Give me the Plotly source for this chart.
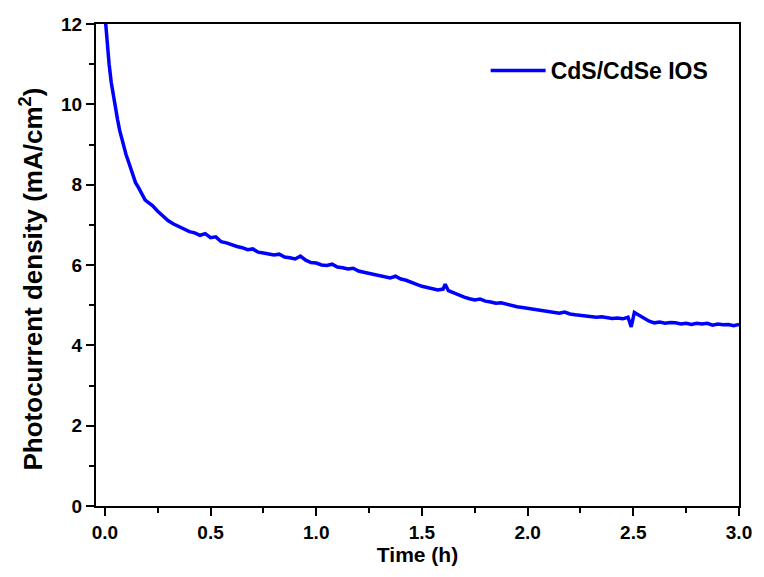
import plotly.graph_objects as go

# Time (h) and photocurrent density (mA/cm^2)
time_h = [0.000, 0.010, 0.020, 0.030, 0.040, 0.050, 0.060, 0.070, 0.080, 0.090,
          0.100, 0.115, 0.130, 0.145, 0.160, 0.175, 0.190, 0.200,
          0.225, 0.250, 0.275, 0.300, 0.325, 0.350, 0.375, 0.400, 0.425, 0.450,
          0.475, 0.500, 0.525, 0.550, 0.575, 0.600, 0.625, 0.650, 0.675, 0.700,
          0.725, 0.750, 0.775, 0.800, 0.825, 0.850, 0.875, 0.900, 0.925, 0.950,
          0.975, 1.000, 1.025, 1.050, 1.075, 1.100, 1.125, 1.150, 1.175, 1.200,
          1.225, 1.250, 1.275, 1.300, 1.325, 1.350, 1.375, 1.400, 1.425, 1.450,
          1.475, 1.500, 1.525, 1.550, 1.575, 1.600, 1.610, 1.625, 1.650, 1.675,
          1.700, 1.725, 1.750, 1.775, 1.800, 1.825, 1.850, 1.875, 1.900, 1.925,
          1.950, 1.975, 2.000, 2.025, 2.050, 2.075, 2.100, 2.125, 2.150, 2.175,
          2.200, 2.225, 2.250, 2.275, 2.300, 2.325, 2.350, 2.375, 2.400, 2.425,
          2.450, 2.475, 2.490, 2.505, 2.525, 2.550, 2.575, 2.600, 2.625, 2.650,
          2.675, 2.700, 2.725, 2.750, 2.775, 2.800, 2.825, 2.850, 2.875, 2.900,
          2.925, 2.950, 2.975, 3.000]

current = [12.25, 11.55, 11.00, 10.55, 10.20, 9.90, 9.62, 9.35, 9.12, 8.95,
           8.75, 8.52, 8.25, 8.05, 7.92, 7.78, 7.62, 7.58,
           7.48, 7.34, 7.22, 7.10, 7.02, 6.95, 6.90, 6.83, 6.80, 6.74,
           6.78, 6.68, 6.70, 6.58, 6.55, 6.50, 6.46, 6.43, 6.38, 6.40,
           6.32, 6.30, 6.28, 6.25, 6.27, 6.20, 6.18, 6.15, 6.22, 6.12,
           6.06, 6.05, 6.00, 5.99, 6.02, 5.95, 5.93, 5.90, 5.92, 5.85,
           5.82, 5.79, 5.76, 5.72, 5.70, 5.68, 5.72, 5.65, 5.62, 5.58,
           5.52, 5.47, 5.44, 5.40, 5.38, 5.40, 5.52, 5.36, 5.30, 5.24,
           5.20, 5.16, 5.13, 5.15, 5.10, 5.08, 5.05, 5.06, 5.02, 4.98,
           4.96, 4.94, 4.92, 4.90, 4.88, 4.86, 4.85, 4.82, 4.80, 4.83,
           4.78, 4.76, 4.74, 4.72, 4.72, 4.70, 4.71, 4.69, 4.67, 4.68,
           4.66, 4.70, 4.46, 4.82, 4.75, 4.68, 4.60, 4.56, 4.58, 4.55,
           4.57, 4.56, 4.53, 4.55, 4.52, 4.55, 4.53, 4.55, 4.50, 4.53,
           4.51, 4.52, 4.49, 4.52]

x_ticks = [0.0, 0.5, 1.0, 1.5, 2.0, 2.5, 3.0]
x_ticklabels = ["0.0", "0.5", "1.0", "1.5", "2.0", "2.5", "3.0"]
y_ticks = [0, 2, 4, 6, 8, 10, 12]
y_ticklabels = ["0", "2", "4", "6", "8", "10", "12"]

series_name = "CdS/CdSe IOS"
x_title = "Time (h)"
y_title = "Photocurrent density (mA/cm<sup>2</sup>)"

FONT = "Arial, Liberation Sans, sans-serif"

fig = go.Figure()
fig.add_trace(go.Scatter(
    x=time_h, y=current, mode="lines", name=series_name,
    line=dict(color="#0000FF", width=3.5),
))

axis_common = dict(
    showline=True, linecolor="black", linewidth=2, mirror=True,
    ticks="outside", tickcolor="black", tickwidth=2, ticklen=8,
    showgrid=False, zeroline=False,
    tickfont=dict(family=FONT, size=19, color="black", weight="bold"),
)

fig.update_xaxes(
    **axis_common,
    range=[-0.042, 3.0],
    tickvals=x_ticks, ticktext=x_ticklabels,
    minor=dict(ticks="outside", tickvals=[0.25, 0.75, 1.25, 1.75, 2.25, 2.75],
               ticklen=5, tickwidth=2, tickcolor="black"),
    title=dict(text=x_title, font=dict(family=FONT, size=21, color="black", weight="bold"),
               standoff=4),
)
fig.update_yaxes(
    **axis_common,
    range=[0, 12],
    tickvals=y_ticks, ticktext=y_ticklabels,
    minor=dict(ticks="outside", tickvals=[1, 3, 5, 7, 9, 11],
               ticklen=5, tickwidth=2, tickcolor="black"),
)

# y-axis title placed as a rotated annotation for exact positioning
fig.add_annotation(
    text=y_title, textangle=-90, showarrow=False,
    xref="paper", yref="paper", x=-0.101, y=0.470,
    xanchor="center", yanchor="middle",
    font=dict(family=FONT, size=26, color="black", weight="bold"),
)

fig.update_layout(
    width=764, height=577,
    margin=dict(l=96, r=20, t=24, b=71),
    paper_bgcolor="white", plot_bgcolor="white",
    showlegend=True,
    legend=dict(x=0.606, y=0.948, xanchor="left", yanchor="top",
                itemwidth=55,
                bgcolor="rgba(0,0,0,0)",
                font=dict(family=FONT, size=23, color="black", weight="bold")),
)

fig.write_html("out.html")
